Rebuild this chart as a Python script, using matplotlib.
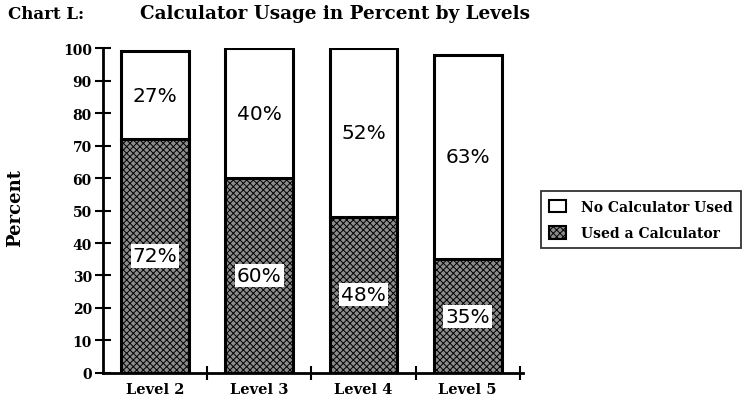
import numpy as np
import matplotlib
matplotlib.use("Agg")
import matplotlib.pyplot as plt
from matplotlib.patches import Patch

levels = ["Level 2", "Level 3", "Level 4", "Level 5"]
used_calc = [72, 60, 48, 35]
no_calc = [27, 40, 52, 63]
y_ticks = [0, 10, 20, 30, 40, 50, 60, 70, 80, 90, 100]

plt.rcParams["hatch.linewidth"] = 0.7
serif = "DejaVu Serif"
fill = "#8c8c8c"

fig = plt.figure(figsize=(7.46, 4.06), dpi=100)
ax = fig.add_axes([0.138, 0.079, 0.563, 0.800])

x = np.arange(len(levels))
width = 0.65

ax.bar(x, used_calc, width, color=fill, hatch="xxxxx", edgecolor="black",
       linewidth=2.2, label="Used a Calculator", zorder=2)
ax.bar(x, no_calc, width, bottom=used_calc, color="white", edgecolor="black",
       linewidth=2.2, label="No Calculator Used", zorder=2)

box = dict(facecolor="white", edgecolor="none", pad=1.5)
for xi, u, n in zip(x, used_calc, no_calc):
    ax.text(xi, u / 2, f"{u}%", ha="center", va="center", fontsize=14.5,
            family="DejaVu Sans", bbox=box, zorder=3)
    ax.text(xi, u + n / 2, f"{n}%", ha="center", va="center", fontsize=14.5,
            family="DejaVu Sans", bbox=box, zorder=3)

ax.set_xlim(-0.5, 3.53)
ax.set_ylim(0, 100)
ax.set_yticks(y_ticks)
ax.set_yticklabels([str(t) for t in y_ticks], family=serif, fontweight="bold", fontsize=10)
ax.tick_params(axis="y", direction="inout", length=12, width=1.5, pad=2)

ax.set_xticks([0.5, 1.5, 2.5, 3.5])
ax.set_xticklabels([])
ax.tick_params(axis="x", direction="inout", length=10, width=1.5)
for xi, name in zip(x, levels):
    ax.text(xi, -2.8, name, ha="center", va="top", family=serif,
            fontweight="bold", fontsize=10.5)

for side in ["top", "right"]:
    ax.spines[side].set_visible(False)
ax.spines["left"].set_linewidth(2)
ax.spines["bottom"].set_linewidth(2)

fig.text(0.02, 0.488, "Percent", rotation=90, ha="center", va="center",
         family=serif, fontweight="bold", fontsize=13)
fig.text(0.011, 0.965, "Chart L:", ha="left", va="center", family=serif,
         fontweight="bold", fontsize=12)
fig.text(0.188, 0.965, "Calculator Usage in Percent by Levels", ha="left",
         va="center", family=serif, fontweight="bold", fontsize=13.2)

handles = [Patch(facecolor="white", edgecolor="black", linewidth=1.5, label="No Calculator Used"),
           Patch(facecolor=fill, hatch="xxxxx", edgecolor="black", linewidth=1.5,
                 label="Used a Calculator")]
leg = fig.legend(handles=handles, loc="center left", bbox_to_anchor=(0.725, 0.456),
                 frameon=True, fancybox=False, edgecolor="black",
                 prop={"family": serif, "weight": "bold", "size": 10},
                 handlelength=1.2, handleheight=1.0, handletextpad=1.1,
                 borderpad=0.6, labelspacing=0.9, borderaxespad=0)
leg.get_frame().set_linewidth(1.3)

fig.savefig("out.png", dpi=100)
